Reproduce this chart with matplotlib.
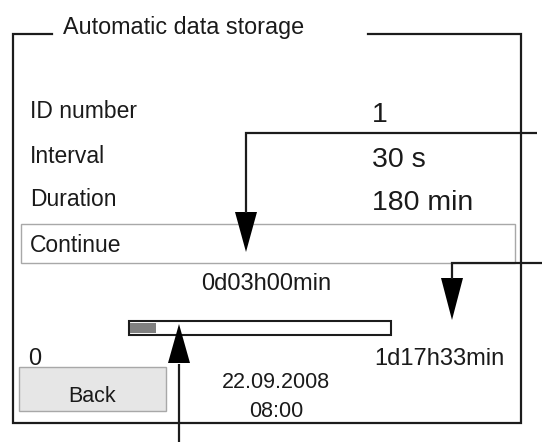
import matplotlib
matplotlib.use('Agg')
import matplotlib.pyplot as plt
from matplotlib.patches import Rectangle, Polygon

plt.rcParams['font.family'] = ['Liberation Sans', 'DejaVu Sans']

# screen content
title = 'Automatic data storage'
labels = ['ID number', 'Interval', 'Duration']
values = ['1', '30 s', '180 min']
button_text = 'Continue'
remaining = '0d03h00min'
bar_start = '0'
bar_end = '1d17h33min'
progress = 0.10   # filled part of the storage bar
date_str = '22.09.2008'
time_str = '08:00'
back_text = 'Back'

ink = '#1c1c1c'
txt = '#1a1a1a'

fig = plt.figure(figsize=(5.46, 4.42), dpi=100)
ax = fig.add_axes([0, 0, 1, 1])
ax.set_xlim(0, 546)
ax.set_ylim(442, 0)
ax.axis('off')

# frame with gap for the title
ax.plot([52, 12.5, 12.5, 520.5, 520.5, 368], [34, 34, 423, 423, 34, 34],
        color=ink, lw=1.6, solid_joinstyle='miter')
ax.text(63, 34, title, fontsize=16.8, color=txt, va='baseline', ha='left')

# parameter rows
label_base = [118, 163, 206]
value_base = [122, 167, 210]
for lab, y in zip(labels, label_base):
    ax.text(30, y, lab, fontsize=16.5, color=txt, va='baseline', ha='left')
for val, y in zip(values, value_base):
    ax.text(372, y, val, fontsize=20.5, color=txt, va='baseline', ha='left')

# Continue box
ax.add_patch(Rectangle((21, 224), 494, 38.5, facecolor='white', edgecolor='#a8a8a8', lw=1.0))
ax.text(30, 252, button_text, fontsize=16.5, color=txt, va='baseline', ha='left')
ax.text(266, 290, remaining, fontsize=17, color=txt, va='baseline', ha='center')

# storage bar
bar_x0, bar_x1 = 129, 391
ax.add_patch(Rectangle((bar_x0, 321), bar_x1 - bar_x0, 13.5, facecolor='white', edgecolor=ink, lw=1.5))
ax.add_patch(Rectangle((bar_x0 + 1, 322.5), (bar_x1 - bar_x0) * progress, 10.5, facecolor='#808080', edgecolor='none'))
ax.text(35, 365, bar_start, fontsize=17, color=txt, va='baseline', ha='center')
ax.text(504, 365, bar_end, fontsize=17, color=txt, va='baseline', ha='right')

# Back button
ax.add_patch(Rectangle((19, 367), 147, 44, facecolor='#e6e6e6', edgecolor='#a8a8a8', lw=1.0))
ax.text(92, 402, back_text, fontsize=15.5, color=txt, va='baseline', ha='center')
ax.text(276, 388, date_str, fontsize=15.5, color=txt, va='baseline', ha='center')
ax.text(276, 417, time_str, fontsize=15.5, color=txt, va='baseline', ha='center')


def pointer(xs, ys, x_tip, base_y, tip_y):
    ax.plot(xs, ys, color=ink, lw=1.6, solid_joinstyle='miter', solid_capstyle='butt')
    ax.add_patch(Polygon([(x_tip - 11, base_y), (x_tip + 11, base_y), (x_tip, tip_y)],
                         closed=True, facecolor='black', edgecolor='none'))


# callout arrows
pointer([537, 246, 246], [133, 133, 213], 246, 212, 252)
pointer([542, 452, 452], [263, 263, 279], 452, 278, 320)
pointer([179, 179], [442, 364], 179, 363, 324)

fig.savefig('out.png', dpi=100)
